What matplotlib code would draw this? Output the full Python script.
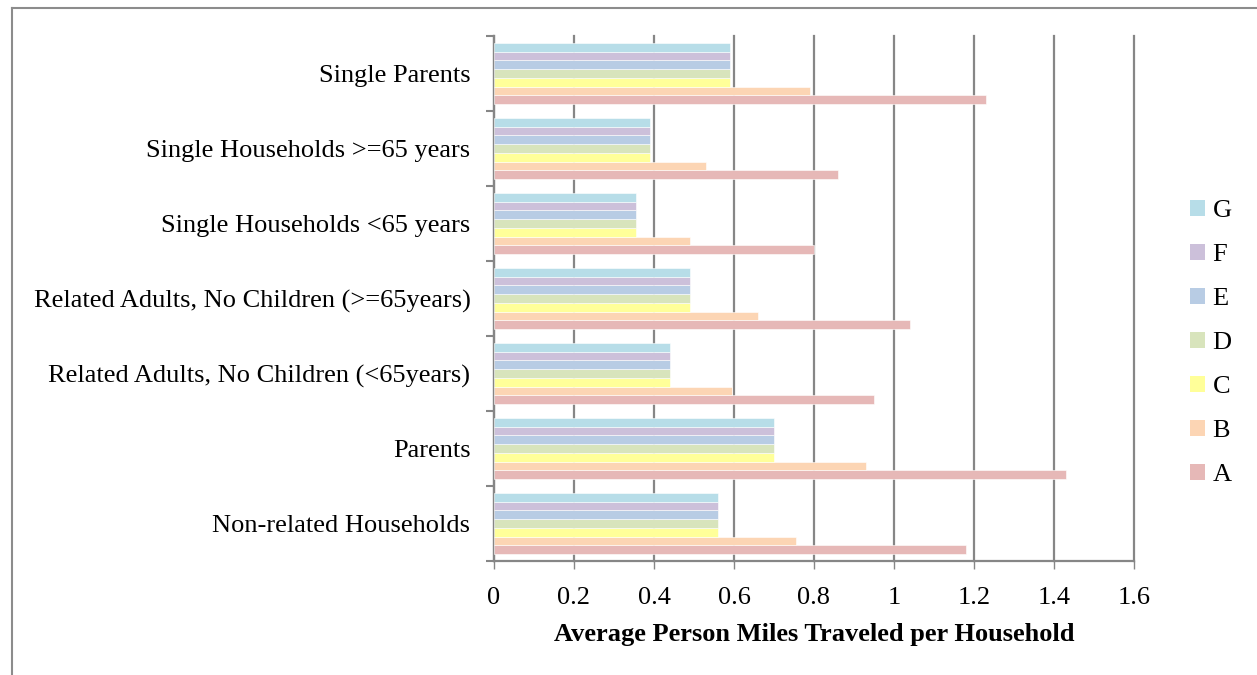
import numpy as np
import matplotlib.pyplot as plt
from matplotlib.patches import Patch
from matplotlib.lines import Line2D

# household types, bottom to top
categories = [
    "Non-related Households",
    "Parents",
    "Related Adults, No Children (<65years)",
    "Related Adults, No Children (>=65years)",
    "Single Households <65 years",
    "Single Households >=65 years",
    "Single Parents",
]

series_names = ["A", "B", "C", "D", "E", "F", "G"]

A = [1.18, 1.43, 0.95, 1.04, 0.80, 0.86, 1.23]
B = [0.755, 0.93, 0.595, 0.66, 0.49, 0.53, 0.79]
C = [0.56, 0.70, 0.44, 0.49, 0.355, 0.39, 0.59]
D = [0.56, 0.70, 0.44, 0.49, 0.355, 0.39, 0.59]
E = [0.56, 0.70, 0.44, 0.49, 0.355, 0.39, 0.59]
F = [0.56, 0.70, 0.44, 0.49, 0.355, 0.39, 0.59]
G = [0.56, 0.70, 0.44, 0.49, 0.355, 0.39, 0.59]

colors = ["#E6B8B7", "#FCD5B4", "#FFFF99", "#D8E4BC", "#B8CCE4", "#CCC0DA", "#B7DDE8"]

plt.rcParams["font.family"] = ["Liberation Serif", "DejaVu Serif"]
FS = 19

fig = plt.figure(figsize=(12.57, 6.75), dpi=100)
ax = fig.add_axes([494 / 1257, 1 - 561 / 675, 640 / 1257, 525 / 675])

# chart-area border (left and top edges)
fig.add_artist(Line2D([12 / 1257, 12 / 1257], [0, 1 - 8 / 675],
                      transform=fig.transFigure, color="#8C8C8C", lw=1.5))
fig.add_artist(Line2D([12 / 1257, 1], [1 - 8 / 675, 1 - 8 / 675],
                      transform=fig.transFigure, color="#8C8C8C", lw=1.5))

y = np.arange(len(categories))
bar_h = 0.1165
data = [A, B, C, D, E, F, G]
for i, (vals, col) in enumerate(zip(data, colors)):
    offset = (i - 3) * bar_h
    ax.barh(y + offset, vals, height=bar_h, color=col,
            edgecolor="white", linewidth=0.4, zorder=3)

ax.set_xlim(0, 1.6)
ax.set_ylim(-0.5, len(categories) - 0.5)
ax.set_xticks(np.arange(0, 1.61, 0.2))
ax.set_xticklabels(["0", "0.2", "0.4", "0.6", "0.8", "1", "1.2", "1.4", "1.6"])
ax.set_yticks(y)
ax.set_yticklabels(categories)
ax.set_yticks(np.arange(-0.5, len(categories), 1), minor=True)

ax.tick_params(axis="y", which="major", length=0, pad=17, labelsize=FS)
ax.tick_params(axis="y", which="minor", length=6, width=1.5, color="#868686")
ax.tick_params(axis="x", length=6, width=1, color="#868686", pad=13, labelsize=FS)

ax.grid(axis="x", color="#868686", linewidth=1.6, zorder=0)
for line in ax.get_xgridlines():
    line.set_clip_on(False)
for s in ["top", "right"]:
    ax.spines[s].set_visible(False)
for s in ["left", "bottom"]:
    ax.spines[s].set_color("#868686")
    ax.spines[s].set_linewidth(1.6)

ax.set_xlabel("Average Person Miles Traveled per Household",
              fontsize=FS, fontweight="bold", labelpad=10)

handles = [Patch(facecolor=c, edgecolor="none") for c in colors][::-1]
labels = series_names[::-1]
fig.legend(handles, labels, loc="center left",
           bbox_to_anchor=(1190 / 1257, 1 - 343 / 675),
           frameon=False, fontsize=FS, handlelength=0.55, handleheight=0.55,
           handletextpad=0.3, labelspacing=0.82, borderpad=0, borderaxespad=0)

fig.savefig("out.png", dpi=100)
